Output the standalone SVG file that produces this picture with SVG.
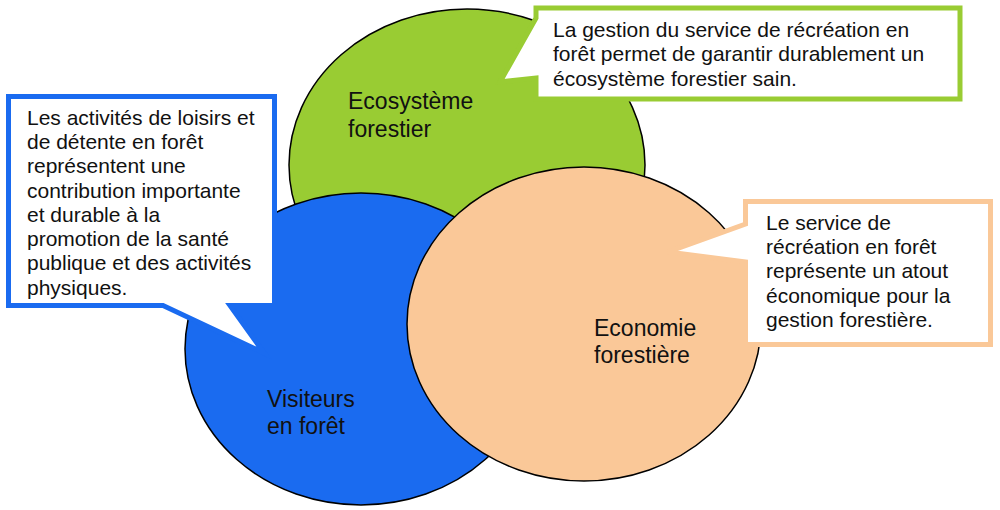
<svg xmlns="http://www.w3.org/2000/svg" width="1000" height="510" viewBox="0 0 1000 510">
<style>
.ell{stroke:#000;stroke-width:1.5}
.lbl{font-family:"Liberation Sans",Arial,sans-serif;font-size:23px;fill:#111}
.txt{font-family:"Liberation Sans",Arial,sans-serif;font-size:21px;fill:#111}
.call{fill:#fff;stroke-width:5;stroke-linejoin:miter}
</style>
<rect width="1000" height="510" fill="#fff"/>
<g id="node-ecosysteme">
<ellipse class="ell" cx="467" cy="165" rx="178" ry="156" fill="#99CC33"/>
<text class="lbl" x="348" y="109">Ecosystème</text>
<text class="lbl" x="348" y="137">forestier</text>
</g>
<g id="node-visiteurs">
<ellipse class="ell" cx="361" cy="349" rx="176" ry="156" fill="#1A6BF0"/>
</g>
<g id="node-economie">
<ellipse class="ell" cx="584" cy="324" rx="177" ry="157" fill="#FAC898"/>
<text class="lbl" x="594" y="336">Economie</text>
<text class="lbl" x="594" y="363">forestière</text>
</g>
<g id="label-visiteurs">
<text class="lbl" x="267" y="407">Visiteurs</text>
<text class="lbl" x="267" y="434">en forêt</text>
</g>
<g id="connectors">
<path id="callout-ecosysteme" class="call" stroke="#99CC33" d="M536,8 H960 V99 H536 V78 L500,82 L536,18 Z"/>
<path id="callout-visiteurs" class="call" stroke="#1A6BF0" d="M8.5,96.5 H274.5 V305.5 H230 L264,353 L163,305.5 H8.5 Z"/>
<path id="callout-economie" class="call" stroke="#FAC898" d="M745.5,201.5 H990.5 V344.5 H745.5 V262 L668,252 L745.5,224 Z"/>
</g>
<g id="text-ecosysteme" class="txt">
<text x="553" y="37">La gestion du service de récréation en</text>
<text x="553" y="61">forêt permet de garantir durablement un</text>
<text x="553" y="86">écosystème forestier sain.</text>
</g>
<g id="text-visiteurs" class="txt">
<text x="27" y="125">Les activités de loisirs et</text>
<text x="27" y="149">de détente en forêt</text>
<text x="27" y="173">représentent une</text>
<text x="27" y="198">contribution importante</text>
<text x="27" y="222">et durable à la</text>
<text x="27" y="246">promotion de la santé</text>
<text x="27" y="270">publique et des activités</text>
<text x="27" y="295">physiques.</text>
</g>
<g id="text-economie" class="txt">
<text x="766" y="230">Le service de</text>
<text x="766" y="254">récréation en forêt</text>
<text x="766" y="278">représente un atout</text>
<text x="766" y="303">économique pour la</text>
<text x="766" y="327">gestion forestière.</text>
</g>
</svg>
